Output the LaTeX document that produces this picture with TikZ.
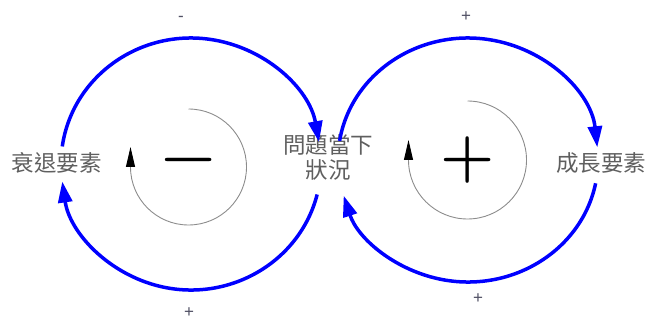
\documentclass[tikz,border=0pt]{standalone}
\usepackage{fontspec}
\newfontfamily\cjk{Noto Sans CJK TC}
\newfontfamily\sgnfont{Liberation Sans}
\usetikzlibrary{arrows.meta}
\definecolor{lblgray}{RGB}{95,95,95}
\definecolor{arcgray}{RGB}{140,140,140}
\definecolor{sgngray}{RGB}{80,80,100}
\tikzset{
  loopline/.style={draw=blue, line width=3.5pt, -{Triangle[length=21pt,width=14pt]}},
  innerline/.style={draw=arcgray, line width=0.9pt, -{Triangle[length=20pt,width=9pt,color=black]}},
  lbl/.style={font=\cjk\fontsize{22.5}{25}\selectfont, text=lblgray, align=center, inner sep=0pt},
  smallsgn/.style={font=\sgnfont\fontsize{17}{17}\selectfont, text=sgngray, inner sep=0pt},
  bigsgn/.style={font=\bfseries\fontsize{62}{62}\selectfont, text=black, inner sep=0pt}
}
\begin{document}
\begin{tikzpicture}[x=1pt,y=1pt]
\useasboundingbox (0,0) rectangle (650,324);
% centres
\coordinate (lc) at (191,160);
\coordinate (rc) at (468,164);
\coordinate (li) at (188.5,157);
\coordinate (ri) at (467.5,164);
% labels
\node[lbl] (dec) at (56.5,161) {衰退要素};
\node[lbl] (cur) at (328,166.5) {問題當下\\狀況};
\node[lbl] (gro) at (601,161) {成長要素};
% big loops
\draw[loopline] ([shift={(172:130 and 126)}]lc) arc[start angle=172, end angle=10, x radius=130, y radius=126];
\draw[loopline] ([shift={(-14:130 and 126)}]lc) arc[start angle=-14, end angle=-172, x radius=130, y radius=126];
\draw[loopline] ([shift={(171:130 and 122)}]rc) arc[start angle=171, end angle=6, x radius=130, y radius=122];
\draw[loopline] ([shift={(-11:130 and 122)}]rc) arc[start angle=-11, end angle=-163, x radius=130, y radius=122];
% inner loops
\draw[innerline] ([shift={(90:58)}]li) arc[start angle=90, end angle=-180, radius=58] -- ++(0,20);
\draw[innerline] ([shift={(90:59)}]ri) arc[start angle=90, end angle=-180, radius=59] -- ++(0,20);
% big signs
\node[bigsgn] (minus) at (li) {−};
\node[bigsgn] (plus) at (ri) {+};
% small signs
\node[smallsgn] (s1) at (181,305) {-};
\node[smallsgn] (s2) at (466,307) {+};
\node[smallsgn] (s3) at (189,11) {+};
\node[smallsgn] (s4) at (478,25) {+};
\end{tikzpicture}
\end{document}
